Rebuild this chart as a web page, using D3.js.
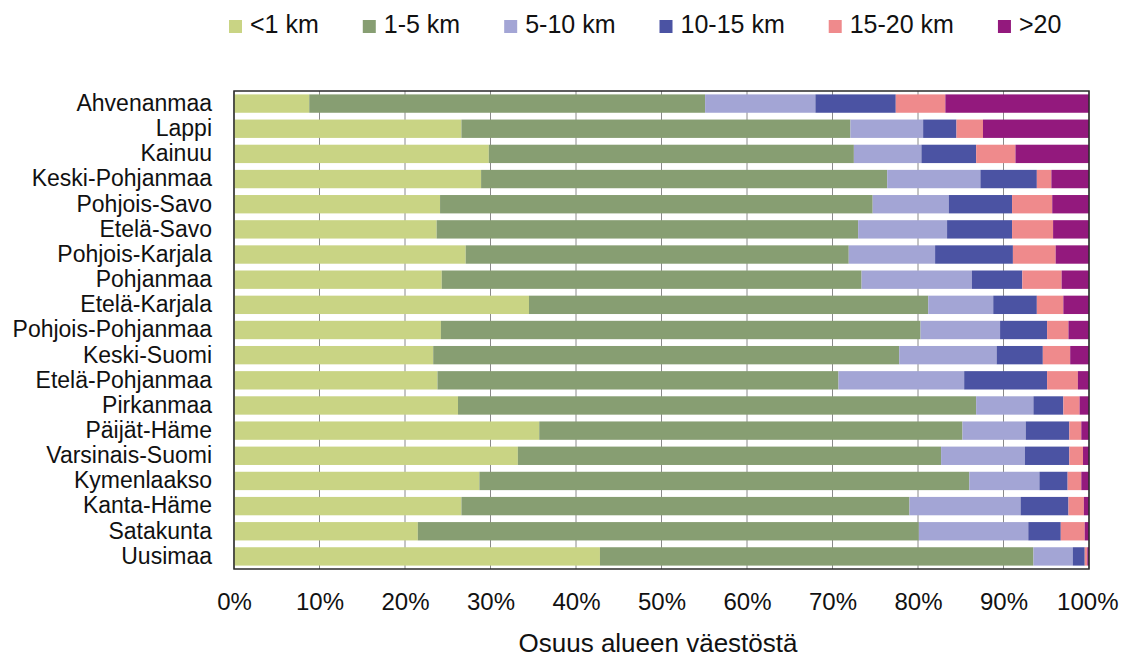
<!DOCTYPE html>
<html>
<head>
<meta charset="utf-8">
<script src="https://cdn.jsdelivr.net/npm/d3@7"></script>
<style>
  html, body { margin: 0; padding: 0; background: #fff; }
  svg { display: block; }
  text { font-family: "Liberation Sans", Arial, sans-serif; fill: #111; }
</style>
</head>
<body>
<svg id="chart" width="1126" height="660"></svg>
<script>
// ---- data ----
const categories = ["Ahvenanmaa","Lappi","Kainuu","Keski-Pohjanmaa","Pohjois-Savo","Etelä-Savo",
  "Pohjois-Karjala","Pohjanmaa","Etelä-Karjala","Pohjois-Pohjanmaa","Keski-Suomi","Etelä-Pohjanmaa",
  "Pirkanmaa","Päijät-Häme","Varsinais-Suomi","Kymenlaakso","Kanta-Häme","Satakunta","Uusimaa"];
const seriesNames = ["<1 km","1-5 km","5-10 km","10-15 km","15-20 km",">20"];
const under1 = [8.8,26.6,29.8,28.9,24.1,23.7,27.1,24.3,34.5,24.2,23.3,23.8,26.2,35.7,33.2,28.7,26.6,21.5,42.8];
const km1to5 = [46.3,45.5,42.7,47.5,50.6,49.3,44.8,49.1,46.7,56.1,54.5,46.9,60.6,49.5,49.5,57.3,52.4,58.6,50.7];
const km5to10 = [12.9,8.5,7.9,10.9,8.9,10.4,10.1,12.9,7.6,9.3,11.4,14.7,6.7,7.4,9.8,8.2,13.0,12.8,4.6];
const km10to15 = [9.4,3.9,6.4,6.6,7.4,7.6,9.1,5.9,5.1,5.5,5.4,9.7,3.5,5.1,5.2,3.3,5.6,3.8,1.4];
const km15to20 = [5.8,3.1,4.6,1.7,4.7,4.8,5.0,4.6,3.1,2.5,3.2,3.6,1.9,1.4,1.6,1.6,1.8,2.8,0.3];
const over20 = [16.8,12.4,8.6,4.4,4.3,4.2,3.9,3.2,3.0,2.4,2.2,1.3,1.1,0.9,0.7,0.9,0.6,0.5,0.2];
const xTicks = [0,10,20,30,40,50,60,70,80,90,100];
const axisTitle = "Osuus alueen väestöstä";
const colors = ["#c9d484","#879e72","#a3a5d5","#4b53a3","#ef8a8c","#93197d"];

// ---- build table ----
const seriesData = [under1, km1to5, km5to10, km10to15, km15to20, over20];
const rows = categories.map((c, i) => {
  const r = { region: c };
  seriesNames.forEach((s, j) => r[s] = seriesData[j][i]);
  return r;
});
const stacked = d3.stack().keys(seriesNames)(rows);

const svg = d3.select("#chart");
const pL = 234, pR = 1089, pT = 91, pB = 569;
const x = d3.scaleLinear().domain([0, 100]).range([pL, pR]);
const y = d3.scaleBand().domain(categories).range([pT, pB]).paddingInner(0.27).paddingOuter(0.135);
const color = d3.scaleOrdinal().domain(seriesNames).range(colors);

// gridlines
svg.append("g")
  .selectAll("line").data(xTicks).join("line")
  .attr("x1", d => x(d)).attr("x2", d => x(d))
  .attr("y1", pT).attr("y2", pB)
  .attr("stroke", "#8a8a8a").attr("stroke-width", 1);

// bars
svg.append("g").selectAll("g").data(stacked).join("g")
  .attr("fill", d => color(d.key))
  .selectAll("rect").data(d => d).join("rect")
  .attr("x", d => x(d[0]))
  .attr("width", d => Math.max(0, x(d[1]) - x(d[0])))
  .attr("y", d => y(d.data.region))
  .attr("height", y.bandwidth());

// frame
svg.append("rect")
  .attr("x", pL).attr("y", pT).attr("width", pR - pL).attr("height", pB - pT)
  .attr("fill", "none").attr("stroke", "#2a2a2a").attr("stroke-width", 1.5);

// y axis
const yAxis = svg.append("g").attr("transform", `translate(${pL},0)`)
  .call(d3.axisLeft(y).tickSize(0).tickPadding(22));
yAxis.select(".domain").remove();
yAxis.selectAll("text").style("font-size", "23px").attr("fill", "#111")
  .style("font-family", '"Liberation Sans", Arial, sans-serif');

// x axis
const xAxis = svg.append("g").attr("transform", `translate(0,${pB})`)
  .call(d3.axisBottom(x).tickValues(xTicks).tickFormat(d => d + "%").tickSize(0).tickPadding(24));
xAxis.select(".domain").remove();
xAxis.selectAll("text").style("font-size", "24px").attr("fill", "#111")
  .style("font-family", '"Liberation Sans", Arial, sans-serif');
// last label kept inside the picture, like the original
xAxis.selectAll(".tick").filter(d => d === 100).select("text")
  .attr("text-anchor", "end").attr("x", 1118 - x(100));

// axis title
svg.append("text").attr("x", 658).attr("y", 652)
  .attr("text-anchor", "middle").style("font-size", "26px").text(axisTitle);

// legend
const legend = svg.append("g");
let lx = 229;
seriesNames.forEach((s, i) => {
  legend.append("rect").attr("x", lx).attr("y", 20).attr("width", 13).attr("height", 13).attr("fill", colors[i]);
  const t = legend.append("text").attr("x", lx + 21).attr("y", 33).style("font-size", "25px").text(s);
  lx += 21 + t.node().getComputedTextLength() + 44;
});
</script>
</body>
</html>
